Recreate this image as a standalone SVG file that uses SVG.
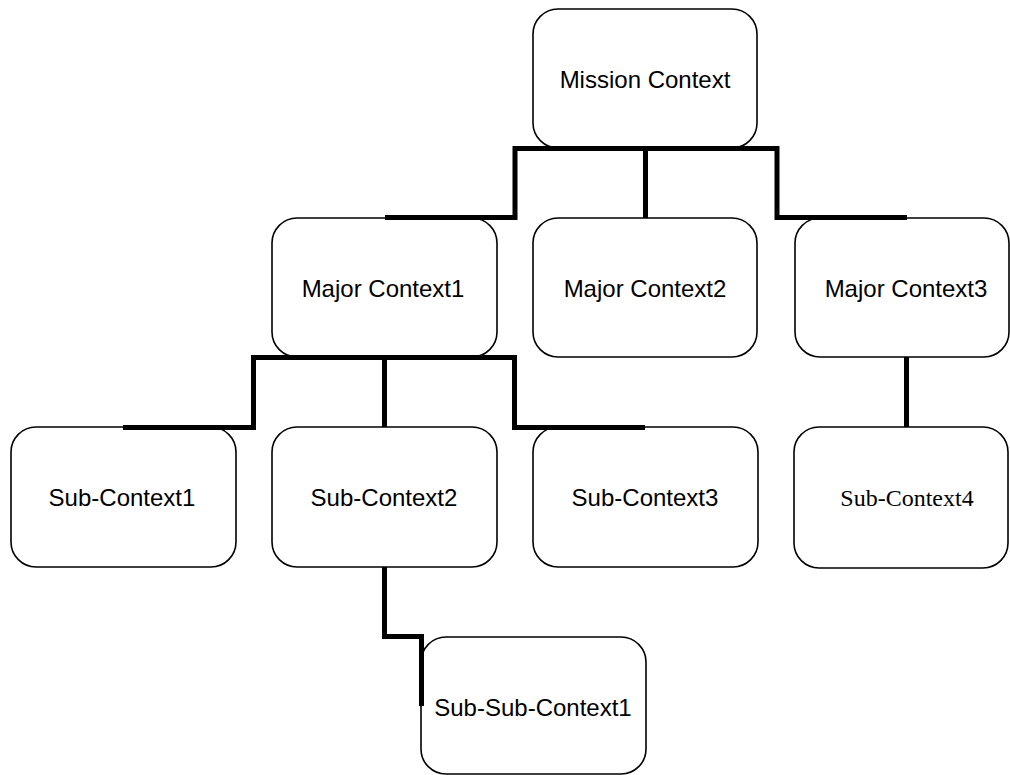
<svg xmlns="http://www.w3.org/2000/svg" width="1010" height="775" viewBox="0 0 1010 775">
  <style>
    .box { fill: #ffffff; stroke: #000000; stroke-width: 1.6; }
    .lbl { font-family: "Liberation Sans", Arial, sans-serif; font-size: 24px; fill: #000000; text-anchor: middle; }
    .lbl-serif { font-family: "Liberation Serif", "Times New Roman", serif; font-size: 24px; fill: #000000; text-anchor: middle; }
    .link { fill: none; stroke: #000000; stroke-width: 5; stroke-linejoin: miter; stroke-linecap: butt; }
  </style>
  <rect width="1010" height="775" fill="#ffffff"/>

  <!-- nodes -->
  <g id="mission-context">
    <rect class="box" x="533" y="9" width="224" height="139" rx="25" ry="25"/>
    <text class="lbl" x="645" y="88">Mission Context</text>
  </g>
  <g id="major-context1">
    <rect class="box" x="272" y="218" width="225" height="139" rx="25" ry="25"/>
    <text class="lbl" x="383" y="297">Major Context1</text>
  </g>
  <g id="major-context2">
    <rect class="box" x="533" y="218" width="224" height="139" rx="25" ry="25"/>
    <text class="lbl" x="645" y="297">Major Context2</text>
  </g>
  <g id="major-context3">
    <rect class="box" x="795" y="218" width="214" height="139" rx="25" ry="25"/>
    <text class="lbl" x="906" y="297">Major Context3</text>
  </g>
  <g id="sub-context1">
    <rect class="box" x="11" y="427" width="225" height="140" rx="25" ry="25"/>
    <text class="lbl" x="122" y="506">Sub-Context1</text>
  </g>
  <g id="sub-context2">
    <rect class="box" x="272" y="427" width="225" height="140" rx="25" ry="25"/>
    <text class="lbl" x="384" y="506">Sub-Context2</text>
  </g>
  <g id="sub-context3">
    <rect class="box" x="533" y="427" width="225" height="140" rx="25" ry="25"/>
    <text class="lbl" x="645" y="506">Sub-Context3</text>
  </g>
  <g id="sub-context4">
    <rect class="box" x="794" y="427" width="214" height="141" rx="25" ry="25"/>
    <text class="lbl-serif" x="907" y="506">Sub-Context4</text>
  </g>
  <g id="sub-sub-context1">
    <rect class="box" x="421" y="637" width="225" height="137" rx="25" ry="25"/>
    <text class="lbl" x="533" y="716">Sub-Sub-Context1</text>
  </g>

  <!-- connectors -->
  <g id="connectors">
    <path class="link" d="M385,217.5 H515 V148.5 H777 V217.5 H907"/>
    <path class="link" d="M645.5,148.5 V218"/>
    <path class="link" d="M123,427.5 H253.5 V357.5 H514.5 V427.5 H645"/>
    <path class="link" d="M384.5,357.5 V427"/>
    <path class="link" d="M906.5,357 V427"/>
    <path class="link" d="M384.5,567 V636.5 H421.5 V706"/>
  </g>
</svg>
